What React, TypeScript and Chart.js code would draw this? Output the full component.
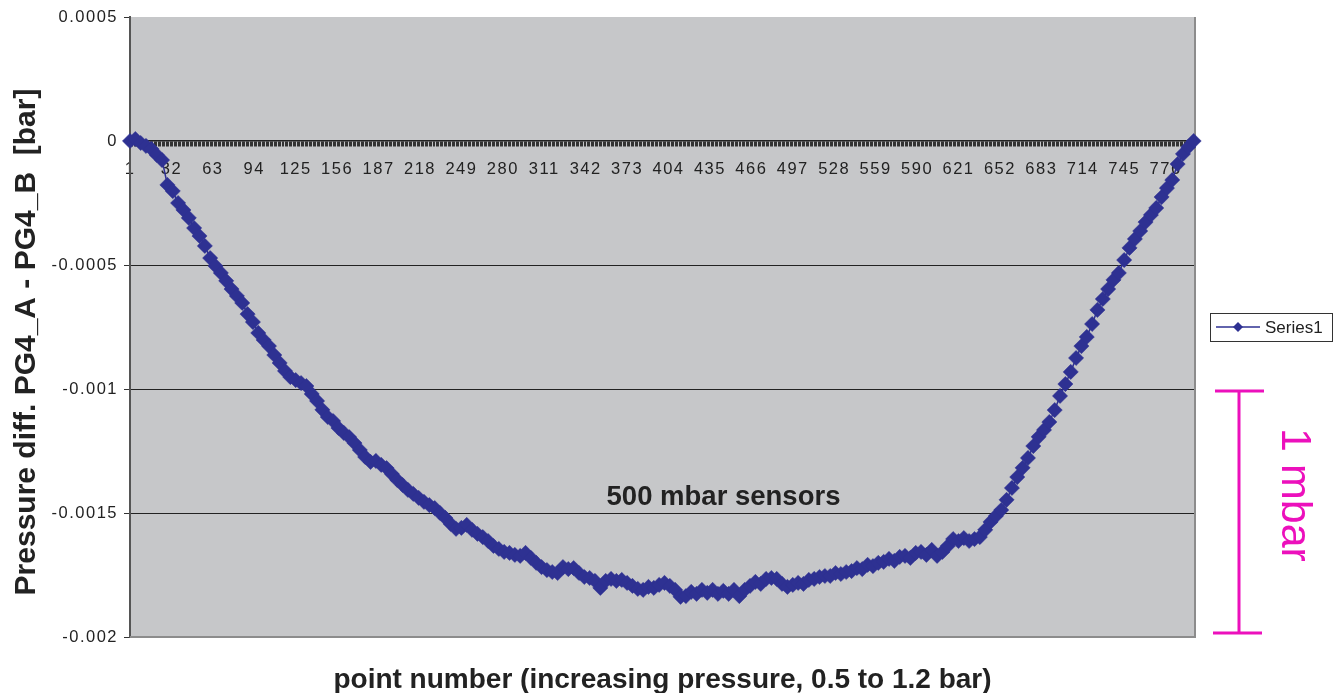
import React, { useEffect, useRef } from 'react';
import { Chart, registerables } from 'chart.js';

Chart.register(...registerables);

const pointNumber = [
  1, 5, 9, 13, 17, 21, 25, 29, 33, 37, 41, 45, 49, 53, 57, 61, 65, 69, 73, 77,
  81, 85, 89, 93, 97, 101, 105, 109, 113, 117, 121, 125, 129, 133, 137, 141, 145, 149, 153, 157,
  161, 165, 169, 173, 177, 181, 185, 189, 193, 197, 201, 205, 209, 213, 217, 221, 225, 229, 233, 237,
  241, 245, 249, 253, 257, 261, 265, 269, 273, 277, 281, 285, 289, 293, 297, 301, 305, 309, 313, 317,
  321, 325, 329, 333, 337, 341, 345, 349, 353, 357, 361, 365, 369, 373, 377, 381, 385, 389, 393, 397,
  401, 405, 409, 413, 417, 421, 425, 429, 433, 437, 441, 445, 449, 453, 457, 461, 465, 469, 473, 477,
  481, 485, 489, 493, 497, 501, 505, 509, 513, 517, 521, 525, 529, 533, 537, 541, 545, 549, 553, 557,
  561, 565, 569, 573, 577, 581, 585, 589, 593, 597, 601, 605, 609, 613, 617, 621, 625, 629, 633, 637,
  641, 645, 649, 653, 657, 661, 665, 669, 673, 677, 681, 685, 689, 693, 697, 701, 705, 709, 713, 717,
  721, 725, 729, 733, 737, 741, 745, 749, 753, 757, 761, 765, 769, 773, 777, 781, 785, 789, 793, 797,
];

// Pressure difference PG4_A - PG4_B [bar]
const pressureDiff = [
  0, 0.000008, -0.000008, -0.00002, -0.000032, -0.000056, -0.000077, -0.000177, -0.000202, -0.00025,
  -0.000278, -0.00031, -0.000351, -0.000383, -0.000423, -0.000472, -0.000504, -0.000532, -0.000564, -0.000597,
  -0.000625, -0.000653, -0.000698, -0.00073, -0.000774, -0.000802, -0.000827, -0.000863, -0.000895, -0.000927,
  -0.000952, -0.000964, -0.000976, -0.000988, -0.00102, -0.001048, -0.001084, -0.001113, -0.001129, -0.001157,
  -0.001177, -0.001194, -0.001218, -0.001246, -0.001274, -0.001294, -0.00129, -0.001306, -0.001319, -0.001343,
  -0.001367, -0.001387, -0.001407, -0.001423, -0.001439, -0.001455, -0.001468, -0.00148, -0.0015, -0.00152,
  -0.001544, -0.001564, -0.00156, -0.001548, -0.001568, -0.001584, -0.001597, -0.001613, -0.001633, -0.001645,
  -0.001657, -0.001661, -0.001669, -0.001673, -0.001661, -0.001681, -0.001701, -0.001718, -0.00173, -0.001738,
  -0.001742, -0.001718, -0.001726, -0.001722, -0.001742, -0.001758, -0.001762, -0.001774, -0.001802, -0.001774,
  -0.001766, -0.001774, -0.00177, -0.001782, -0.001794, -0.001806, -0.00181, -0.001798, -0.001802, -0.00179,
  -0.001782, -0.001794, -0.00181, -0.001838, -0.001835, -0.001818, -0.001826, -0.00181, -0.001822, -0.00181,
  -0.001826, -0.001814, -0.001826, -0.00181, -0.001835, -0.00181, -0.001794, -0.001778, -0.001786, -0.001766,
  -0.001762, -0.001766, -0.001786, -0.001798, -0.00179, -0.001782, -0.001786, -0.00177, -0.001766, -0.001758,
  -0.001754, -0.001754, -0.001742, -0.001746, -0.001738, -0.001734, -0.001722, -0.001726, -0.001709, -0.001714,
  -0.001701, -0.001697, -0.001685, -0.001693, -0.001677, -0.001673, -0.001681, -0.001661, -0.001657, -0.001669,
  -0.001649, -0.001673, -0.001657, -0.001633, -0.001605, -0.001613, -0.001601, -0.001613, -0.001605, -0.001597,
  -0.001568, -0.001536, -0.001512, -0.001488, -0.001447, -0.001399, -0.001355, -0.001318, -0.001278, -0.00123,
  -0.001193, -0.001165, -0.001133, -0.001085, -0.001028, -0.00098, -0.000931, -0.000875, -0.000827, -0.00079,
  -0.000738, -0.000681, -0.000637, -0.000597, -0.00056, -0.000532, -0.00048, -0.000431, -0.000395, -0.000363,
  -0.000327, -0.000298, -0.00027, -0.000226, -0.00019, -0.000157, -0.000093, -0.000052, -0.000024, 0,
];

const xTickLabels = [
  1, 32, 63, 94, 125, 156, 187, 218, 249, 280, 311, 342, 373, 404, 435, 466, 497, 528, 559, 590,
  621, 652, 683, 714, 745, 776,
];
const lastPointNumber = 798;
const yMin = -0.002;
const yMax = 0.0005;
const yStep = 0.0005;

const seriesName = 'Series1';
const xTitle = 'point number (increasing pressure, 0.5 to 1.2 bar)';
const yTitle = 'Pressure diff. PG4_A - PG4_B  [bar]';
const noteText = '500 mbar sensors';
const scaleBarText = '1 mbar';

const BLUE = '#2E3192';
const MAGENTA = '#EC10BC';
const FONT = '"Liberation Sans", Arial, Helvetica, sans-serif';

const decorPlugin = {
  id: 'decor',
  beforeDraw(chart: any) {
    const { ctx, chartArea: a } = chart;
    ctx.save();
    ctx.fillStyle = '#c6c7c9';
    ctx.fillRect(a.left, a.top, a.right - a.left, a.bottom - a.top);
    ctx.restore();
    ctx.letterSpacing = '1.5px';
  },
  beforeDatasetsDraw(chart: any) {
    const { ctx, chartArea: a } = chart;
    ctx.save();
    ctx.strokeStyle = '#8c8c8c';
    ctx.lineWidth = 2;
    ctx.beginPath();
    ctx.moveTo(a.left, a.bottom);
    ctx.lineTo(a.right, a.bottom);
    ctx.lineTo(a.right, a.top);
    ctx.stroke();
    ctx.restore();
  },
  afterDraw(chart: any) {
    const { ctx, chartArea: a } = chart;
    ctx.letterSpacing = '0px';
    ctx.save();
    ctx.fillStyle = '#222';
    // y title
    ctx.save();
    ctx.font = `bold 30px ${FONT}`;
    ctx.textAlign = 'center';
    ctx.textBaseline = 'alphabetic';
    ctx.translate(35, 342);
    ctx.rotate(-Math.PI / 2);
    ctx.fillText(yTitle, 0, 0);
    ctx.restore();
    // x title
    ctx.font = `bold 28px ${FONT}`;
    ctx.textAlign = 'center';
    ctx.textBaseline = 'alphabetic';
    ctx.fillText(xTitle, (a.left + a.right) / 2, 688);
    // note
    ctx.font = `bold 27.5px ${FONT}`;
    ctx.fillText(noteText, 723.5, 505);
    // legend
    ctx.fillStyle = '#fff';
    ctx.fillRect(1210, 313, 122, 28);
    ctx.strokeStyle = '#333';
    ctx.lineWidth = 1;
    ctx.strokeRect(1210.5, 313.5, 122, 28);
    ctx.strokeStyle = BLUE;
    ctx.lineWidth = 1.5;
    ctx.beginPath();
    ctx.moveTo(1216, 327);
    ctx.lineTo(1260, 327);
    ctx.stroke();
    ctx.fillStyle = BLUE;
    ctx.beginPath();
    ctx.moveTo(1238, 322);
    ctx.lineTo(1243, 327);
    ctx.lineTo(1238, 332);
    ctx.lineTo(1233, 327);
    ctx.closePath();
    ctx.fill();
    ctx.fillStyle = '#222';
    ctx.font = `17px ${FONT}`;
    ctx.textAlign = 'left';
    ctx.textBaseline = 'middle';
    ctx.fillText(seriesName, 1265, 328);
    // magenta scale bar
    ctx.strokeStyle = MAGENTA;
    ctx.lineWidth = 3;
    ctx.beginPath();
    ctx.moveTo(1239, 391);
    ctx.lineTo(1239, 633);
    ctx.moveTo(1215, 391);
    ctx.lineTo(1264, 391);
    ctx.moveTo(1213, 633);
    ctx.lineTo(1262, 633);
    ctx.stroke();
    ctx.save();
    ctx.fillStyle = MAGENTA;
    ctx.font = `43px ${FONT}`;
    ctx.textAlign = 'center';
    ctx.textBaseline = 'alphabetic';
    ctx.translate(1282, 495);
    ctx.rotate(Math.PI / 2);
    ctx.fillText(scaleBarText, 0, 0);
    ctx.restore();
    ctx.restore();
  },
};

function fmtY(v: number): string {
  const r = Math.round(v * 1e4) / 1e4;
  return r === 0 ? '0' : String(r);
}

export default function App() {
  const ref = useRef<HTMLCanvasElement>(null);

  useEffect(() => {
    const canvas = ref.current;
    if (!canvas) return;
    const data = pointNumber.map((n, i) => ({ x: n, y: pressureDiff[i] }));
    const chart = new Chart(canvas, {
      type: 'line',
      data: {
        datasets: [
          {
            label: seriesName,
            data,
            borderColor: BLUE,
            backgroundColor: BLUE,
            borderWidth: 1.5,
            pointStyle: 'rectRot',
            pointRadius: 7.6,
            pointBorderWidth: 0.5,
            pointBorderColor: BLUE,
            pointBackgroundColor: BLUE,
            tension: 0,
            clip: false as any,
          },
        ],
      },
      options: {
        responsive: false,
        animation: false,
        devicePixelRatio: 1,
        layout: { padding: { left: 0, top: 17, right: 146, bottom: 56 } },
        plugins: { legend: { display: false }, tooltip: { enabled: false } },
        font: { family: FONT },
        scales: {
          x: {
            type: 'linear',
            position: { y: 0 } as any,
            min: 1,
            max: lastPointNumber,
            ticks: {
              stepSize: 1,
              autoSkip: false,
              maxRotation: 0,
              minRotation: 0,
              padding: 14,
              color: '#222',
              font: { family: FONT, size: 16.5 },
              callback: (v: any) => (xTickLabels.includes(Number(v)) ? String(v) : ''),
            },
            grid: {
              drawOnChartArea: false,
              drawTicks: true,
              tickLength: 5,
              color: '#333',
              tickColor: '#333',
              tickWidth: 1,
            },
            border: { display: true, color: '#222', width: 1.5 },
          },
          y: {
            type: 'linear',
            position: 'left',
            min: yMin,
            max: yMax,
            ticks: {
              stepSize: yStep,
              padding: 6,
              color: '#222',
              font: { family: FONT, size: 16.5 },
              callback: (v: any) => fmtY(Number(v)),
            },
            grid: {
              color: (c: any) => {
                const v = c.tick ? c.tick.value : 0;
                if (v > 0.0004 || v < -0.0019) return 'rgba(0,0,0,0)';
                return '#222';
              },
              tickColor: '#333',
              tickLength: 6,
              lineWidth: 1,
            },
            border: { display: true, color: '#555', width: 2 },
            afterFit: (s: any) => {
              s.width = 130;
            },
          },
        },
      },
      plugins: [decorPlugin],
    } as any);
    return () => chart.destroy();
  }, []);

  return (
    <div style={{ position: 'absolute', left: 0, top: 0, width: 1341, height: 693, background: '#fff' }}>
      <canvas ref={ref} width={1341} height={693} style={{ display: 'block', width: 1341, height: 693 }} />
    </div>
  );
}
